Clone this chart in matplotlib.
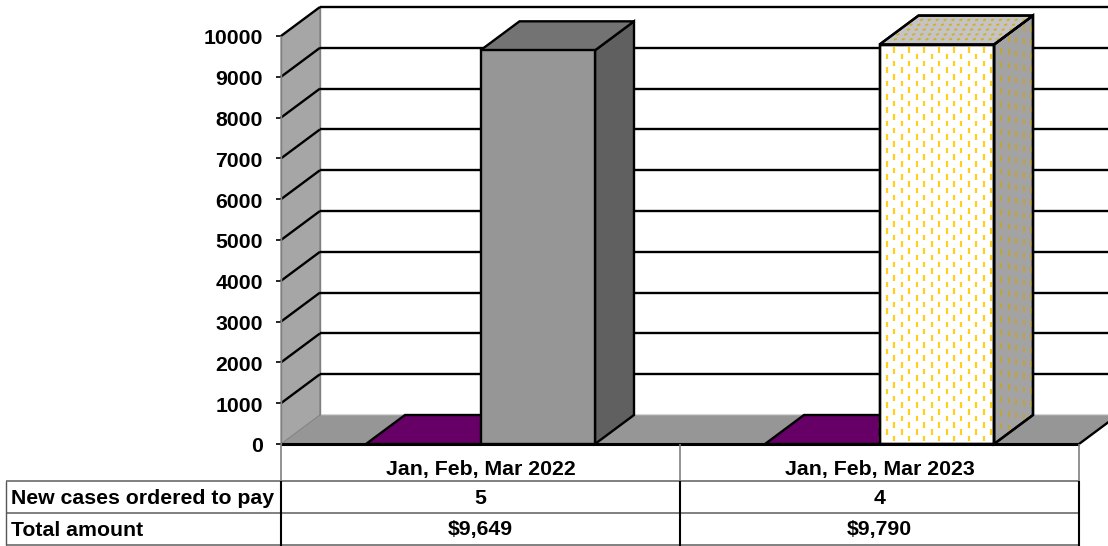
import numpy as np
import matplotlib
matplotlib.use("Agg")
import matplotlib.pyplot as plt
from matplotlib.collections import LineCollection
from matplotlib.patches import Polygon
from matplotlib.transforms import Affine2D, ScaledTranslation, blended_transform_factory

categories = ["Jan, Feb, Mar 2022", "Jan, Feb, Mar 2023"]
cases_ordered = [5, 4]
total_amount = ["$9,649", "$9,790"]
row_labels = ["New cases ordered to pay", "Total amount"]
cases_bar = [0, 0]
amount_bar = [9649, 9790]
yticks = list(range(0, 11000, 1000))

W, H = 1108, 546
FS = 15.3
plt.rcParams['font.family'] = ['Liberation Sans', 'DejaVu Sans']
plt.rcParams['font.weight'] = 'bold'

fig = plt.figure(figsize=(W / 100, H / 100), dpi=100)
ax = fig.add_axes([281 / W, 1 - 444 / H, 798 / W, 408 / H])
ax.set_xlim(0, 2)
ax.set_ylim(0, 10000)
ax.patch.set_visible(False)
for s in ax.spines.values():
    s.set_visible(False)

# oblique offset of the 3D box, in data units
dx = 39 / 399
dy = 29 / 408 * 10000
bar_w = 114.5 / 399
LW = 1.7


def face(pts, color, z, edge='black', lw=LW):
    p = Polygon(pts, closed=True, facecolor=color, edgecolor=edge, linewidth=lw,
                zorder=z, clip_on=False, joinstyle='miter')
    ax.add_patch(p)


def draw_line(xs, ys, color='black', lw=LW, z=3):
    ax.plot(xs, ys, color=color, lw=lw, zorder=z, clip_on=False, solid_capstyle='butt')


# walls and floor
face([(0, 0), (dx, dy), (2 + dx, dy), (2, 0)], '#969696', 1, edge='#b4b4b4', lw=0.8)
face([(0, 0), (dx, dy), (dx, 10000 + dy), (0, 10000)], '#a6a6a6', 2, edge='#808080', lw=0.8)
draw_line([dx, dx], [dy, 10000 + dy], '#808080', 1.0, 2)

for v in yticks[1:]:
    draw_line([0, dx], [v, v + dy])
    draw_line([dx, 2 + dx], [v + dy, v + dy])
draw_line([0, 2], [0, 0], lw=2.2, z=4)
draw_line([2, 2 + dx], [0, dy], z=4)
draw_line([0, 0], [0, 10000], '#808080', 1.0, 4)


def dashes_on(x0, y0, ex, ey, v):
    # dashed yellow fill, sheared along the face given by its bottom edge vector
    n_cols = int(ex * 399 // 7.45) + 1
    segs = []
    height_px = v * 0.0408
    n_rows = int(height_px / 13.4) + 2
    for i in range(n_cols):
        fx = i * 7.45 / (ex * 399)
        for j in range(n_rows):
            low = (j + (i % 2) * 0.5 + 0.2) * 13.4
            if low + 5.6 > height_px - 2:
                continue
            ya = low / 0.0408
            yb = (low + 5.6) / 0.0408
            segs.append([(x0 + ex * fx, y0 + ey * fx + ya), (x0 + ex * fx, y0 + ey * fx + yb)])
    return segs


# clustered bars for each quarter, pattern only on the second one
for i in range(2):
    c = i + 0.5
    # flat bar (zero value) shows up only as its top face
    left = c - bar_w
    v0 = cases_bar[i]
    face([(left, v0), (left + dx, v0 + dy), (left + bar_w + dx, v0 + dy), (left + bar_w, v0)],
         '#660066', 5)
    v = amount_bar[i]
    front = [(c, 0), (c + bar_w, 0), (c + bar_w, v), (c, v)]
    side = [(c + bar_w, 0), (c + bar_w + dx, dy), (c + bar_w + dx, v + dy), (c + bar_w, v)]
    top = [(c, v), (c + dx, v + dy), (c + bar_w + dx, v + dy), (c + bar_w, v)]
    if i == 0:
        face(side, '#606060', 6)
        face(top, '#737373', 6)
        face(front, '#969696', 7)
    else:
        face(side, '#a3a3a3', 6)
        face(top, '#c4c4c4', 6)
        face(front, '#ffffff', 6)
        f = dashes_on(c, 0, bar_w, 0, v)
        ax.add_collection(LineCollection(f, colors='#ffcf1a', linewidths=1.6, zorder=6.5, clip_on=False))
        s = dashes_on(c + bar_w, 0, dx, dy, v)
        ax.add_collection(LineCollection(s, colors='#c9a227', linewidths=1.1, zorder=6.5, clip_on=False))
        # top face gets short slanted flecks
        t = []
        for row in range(1, 6):
            fy = row / 6
            for k in range(1, 15):
                fx = (k + (row % 2) * 0.5 - 0.5) / 14.5
                xp = c + bar_w * fx + dx * fy
                yp = v + dy * fy
                t.append([(xp, yp), (xp + 3 / 399, yp + 1 / 0.0408)])
        ax.add_collection(LineCollection(t, colors='#d4ad2a', linewidths=1.3, zorder=6.5, clip_on=False))
        for poly in (side, top, front):
            face(poly, 'none', 7)

ax.set_xticks([])
ax.set_yticks(yticks)
ax.tick_params(axis='y', length=3.5, width=1.2, pad=9.5, labelsize=FS, color='black')
for t in ax.get_yticklabels():
    t.set_fontweight('bold')
    t.set_transform(t.get_transform() + ScaledTranslation(0, -1 / 100, fig.dpi_scale_trans))

# data table under the axis, positioned in pixels from the top left
px = Affine2D().scale(1, -1).translate(0, H)
xdata_ypx = blended_transform_factory(ax.transData, px)


def tline(x, y, color, lw):
    fig.add_artist(plt.Line2D(x, y, transform=px, color=color, lw=lw, solid_capstyle='butt'))


for y, col in [(481, '#808080'), (513, '#808080'), (545, '#808080')]:
    tline([6, 1079], [y, y], col, 1.4)
tline([6, 6], [481, 545], '#555555', 1.0)
for x in (281, 680, 1079):
    tline([x, x], [444, 481], '#808080', 1.2)
    tline([x, x], [481, 545.5], 'black', 1.5)

row_y = [469, 498, 530]
for i in range(2):
    c = i + 0.5
    ax.text(c, row_y[0], categories[i], transform=xdata_ypx, ha='center', va='center', fontsize=FS,
            fontweight='bold', clip_on=False)
    ax.text(c, row_y[1], str(cases_ordered[i]), transform=xdata_ypx, ha='center', va='center', fontsize=FS,
            fontweight='bold', clip_on=False)
    ax.text(c, row_y[2], total_amount[i], transform=xdata_ypx, ha='center', va='center', fontsize=FS,
            fontweight='bold', clip_on=False)
for y, lab in zip(row_y[1:], row_labels):
    ax.text(11, y, lab, transform=px, ha='left', va='center', fontsize=FS, fontweight='bold', clip_on=False)

fig.savefig("out.png", dpi=100)
